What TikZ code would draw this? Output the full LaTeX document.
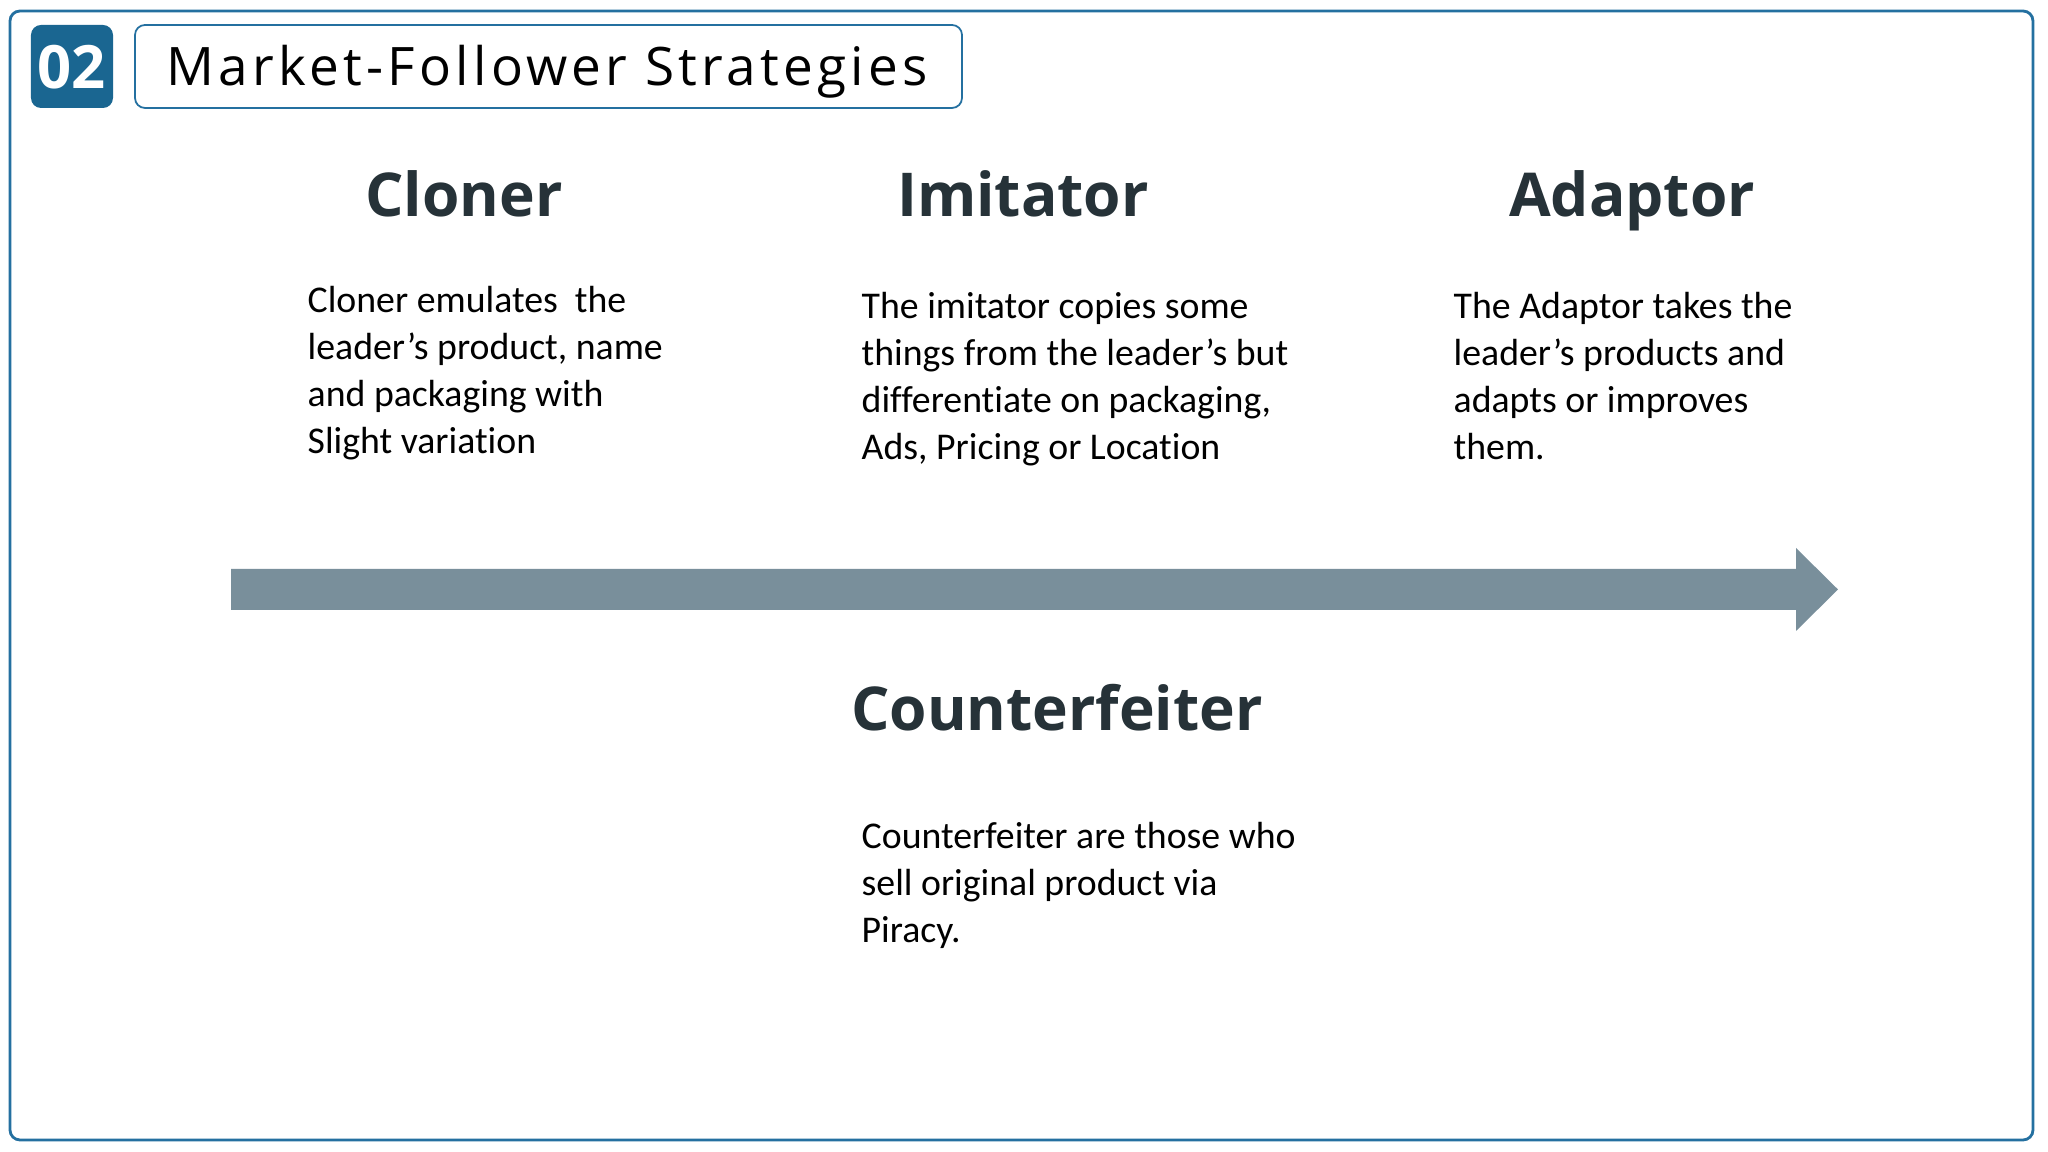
\documentclass[tikz,border=0pt]{standalone}
\usepackage{fontspec}
\setmainfont{Carlito}[Ligatures=NoCommon]
\newfontfamily\headfont{Open Sans}
\newfontfamily\titlefont{Open Sans}[LetterSpace=8]
\usepackage{tikz}
\usetikzlibrary{positioning,calc}

\definecolor{frameblue}{RGB}{36,112,160}
\definecolor{tagblue}{RGB}{26,102,145}
\definecolor{arrowgray}{RGB}{121,143,155}
\definecolor{headdark}{RGB}{38,50,56}

\tikzset{
  heading/.style={anchor=base, inner sep=0pt, text=headdark, font=\headfont\bfseries\fontsize{17.2pt}{21pt}\selectfont},
  bodytext/.style={anchor=north west, inner sep=0pt, align=left, font=\fontsize{10.75pt}{13.3pt}\selectfont}
}

\begin{document}
\begin{tikzpicture}
    \useasboundingbox[fill=white] (0, 0) rectangle (20.48, 11.52);
    \draw[frameblue, line width=0.8pt, rounded corners=0.1cm] (0.10, 0.12) rectangle (20.33, 11.41);

    % title bar
    \fill[tagblue, rounded corners=0.1cm] (0.31, 10.44) rectangle (1.13, 11.27);
    \node[anchor=base, inner sep=0pt, white, font=\headfont\bfseries\fontsize{17pt}{20pt}\selectfont] (tag) at (0.715, 10.63) {02};
    \draw[frameblue, line width=0.5pt, rounded corners=0.1cm] (1.35, 10.44) rectangle (9.62, 11.27);
    \node[anchor=base west, inner sep=0pt, font=\titlefont\fontsize{15.1pt}{18pt}\selectfont] (title) at (1.66, 10.66) {Market-Follower Strategies};

    % headings
    \node[heading] (cloner) at (4.64, 9.35) {Cloner};
    \node[heading] (imitator) at (10.23, 9.35) {Imitator};
    \node[heading] (adaptor) at (16.32, 9.35) {Adaptor};
    \node[heading] (counter) at (10.57, 4.21) {Counterfeiter};

    % descriptions
    \node[bodytext] (clonertext) at (3.07, 8.66) {Cloner emulates~ the\\leader’s product, name\\and packaging with\\Slight variation};
    \node[bodytext] (imitatortext) at (8.61, 8.60) {The imitator copies some\\things from the leader’s but\\differentiate on packaging,\\Ads, Pricing or Location};
    \node[bodytext] (adaptortext) at (14.53, 8.60) {The Adaptor takes the\\leader’s products and\\adapts or improves\\them.};
    \node[bodytext] (countertext) at (8.61, 3.30) {Counterfeiter are those who\\sell original product via\\Piracy.};

    % big arrow
    \fill[arrowgray] (2.31, 5.42) -- (2.31, 5.83) -- (17.96, 5.83) -- (17.96, 6.04)
      -- (18.38, 5.625) -- (17.96, 5.21) -- (17.96, 5.42) -- cycle;
\end{tikzpicture}
\end{document}
